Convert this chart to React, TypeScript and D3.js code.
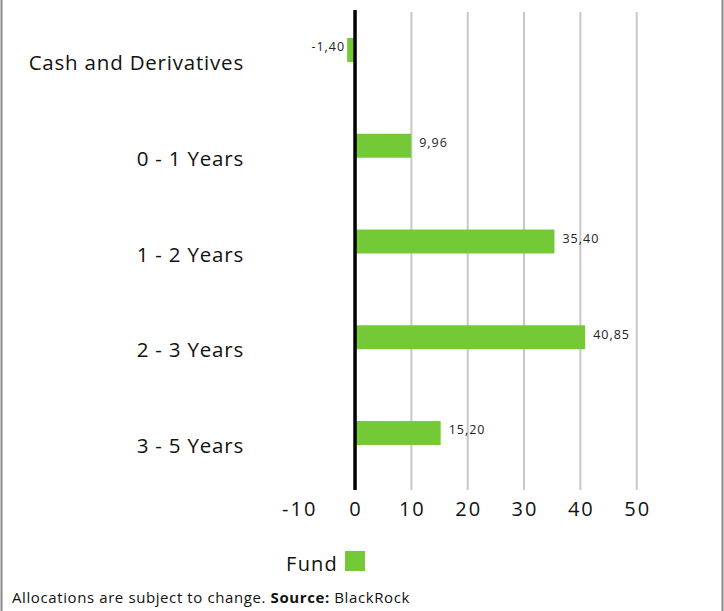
import React from 'react'
import * as d3 from 'd3'

const categories = ['Cash and Derivatives', '0 - 1 Years', '1 - 2 Years', '2 - 3 Years', '3 - 5 Years']
const fundValues = [-1.4, 9.96, 35.4, 40.85, 15.2]
const tickValues = [-10, 0, 10, 20, 30, 40, 50]
const seriesName = 'Fund'

const W = 724
const H = 611
const GREEN = '#74c936'

const fmt = (v: number) => v.toFixed(2).replace('.', ',')

export default function App() {
  const x = d3.scaleLinear().domain([-10, 50]).range([298.7, 636.7])
  const y = d3.scaleBand<string>()
    .domain(categories)
    .range([38, 445])
    .paddingInner(0.75)
    .paddingOuter(0)

  const font = '"Open Sans", "Noto Sans", sans-serif'

  return (
    <svg width={W} height={H} style={{ position: 'absolute', left: 0, top: 0, fontFamily: font }}>
      <rect x={0} y={0} width={W} height={H} fill="white" />
      {/* frame sides */}
      <line x1={1.5} x2={1.5} y1={0} y2={H} stroke="#888" strokeWidth={2} />
      <line x1={722.5} x2={722.5} y1={0} y2={H} stroke="#888" strokeWidth={2} />

      {/* gridlines */}
      {tickValues.filter(t => t > 0).map(t => (
        <line key={t} x1={x(t)} x2={x(t)} y1={12} y2={490} stroke="#c8c8c8" strokeWidth={2} />
      ))}

      {/* bars */}
      {fundValues.map((v, i) => {
        const c = categories[i]
        const y0 = y(c)!
        const x0 = Math.min(x(0), x(v))
        const w = Math.abs(x(v) - x(0))
        return (
          <g key={c}>
            <rect x={x0} y={y0} width={w} height={y.bandwidth()} fill={GREEN} />
            <text
              x={v >= 0 ? x(v) + 8 : x(v) - 2}
              y={y0 + y.bandwidth() / 2 - 2}
              dominantBaseline="middle"
              textAnchor={v >= 0 ? 'start' : 'end'}
              fontSize={12.5}
              letterSpacing={1}
              fill="#222"
            >
              {fmt(v)}
            </text>
            <text x={244} y={y0 + y.bandwidth() / 2 + 20} textAnchor="end" fontSize={20.5} letterSpacing={0.8} fill="#111">
              {c}
            </text>
          </g>
        )
      })}

      {/* zero line */}
      <line x1={x(0)} x2={x(0)} y1={10} y2={490} stroke="#000" strokeWidth={3.5} />

      {/* tick labels */}
      {tickValues.map(t => (
        <text key={t} x={x(t) + 1} y={516} textAnchor="middle" fontSize={20} letterSpacing={2} fill="#111">
          {t}
        </text>
      ))}

      {/* legend */}
      <text x={338} y={571} textAnchor="end" fontSize={20} letterSpacing={1.2} fill="#111">{seriesName}</text>
      <rect x={345} y={551} width={20} height={20} fill={GREEN} />

      {/* footer */}
      <text x={12} y={603} fontSize={15} letterSpacing={0.6} fill="#111">
        Allocations are subject to change. <tspan fontWeight="bold">Source:</tspan> BlackRock
      </text>
    </svg>
  )
}
